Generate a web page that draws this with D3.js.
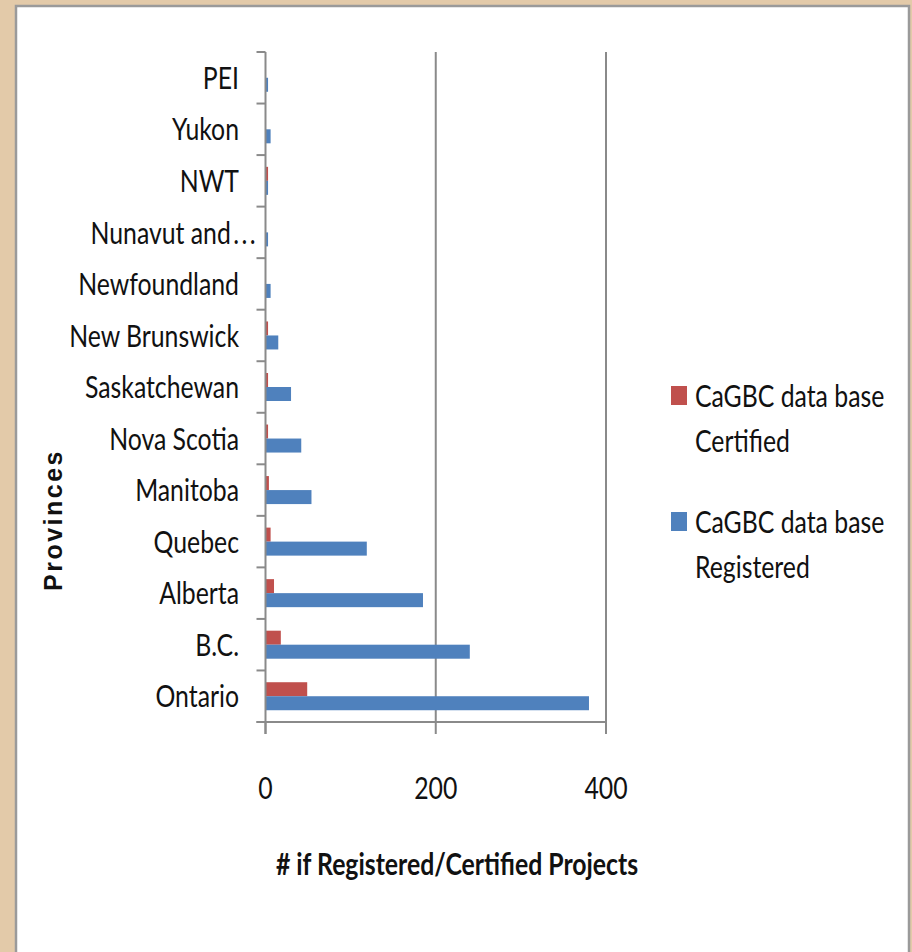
<!DOCTYPE html>
<html>
<head>
<meta charset="utf-8">
<script src="https://cdn.jsdelivr.net/npm/d3@7"></script>
<style>
  html, body { margin: 0; padding: 0; background: #e3caa9; }
  svg { display: block; }
  .lbl { font-family: Lato, "Open Sans", sans-serif; font-size: 31px; fill: #111; }
  .ttl { font-family: Lato, "Open Sans", sans-serif; font-size: 31px; font-weight: bold; fill: #111; }
  .ytl { font-family: "Liberation Sans", Arial, sans-serif; font-size: 25px; font-weight: bold; fill: #111; letter-spacing: 2.5px; }
</style>
</head>
<body>
<svg width="912" height="952"></svg>
<script>
(function () {
  'use strict';

  // provinces, top to bottom as drawn
  var provinces = ['PEI', 'Yukon', 'NWT', 'Nunavut and...', 'Newfoundland', 'New Brunswick',
    'Saskatchewan', 'Nova Scotia', 'Manitoba', 'Quebec', 'Alberta', 'B.C.', 'Ontario'];
  var certified = [0, 0, 3, 0, 0, 3, 3, 3, 4, 6, 10, 18, 49];
  var registered = [3, 6, 3, 3, 6, 15, 30, 42, 54, 119, 185, 240, 380];
  var xTicks = [0, 200, 400];
  var seriesNames = ['certified', 'registered'];
  var legendLines = [['CaGBC data  base', 'Certified'], ['CaGBC data  base', 'Registered']];
  var colors = { certified: '#c0504d', registered: '#4f81bd' };

  // the original text is a tall, narrow face - squeeze it sideways
  var SQ = 0.8;

  var svg = d3.select('svg');

  // white panel with gray frame
  svg.append('rect')
    .attr('x', 16).attr('y', 6)
    .attr('width', 893).attr('height', 960)
    .attr('fill', '#ffffff')
    .attr('stroke', '#9a9a9a')
    .attr('stroke-width', 2.5);

  var left = 265.5, right = 606, top = 52, bottom = 722;

  var x = d3.scaleLinear().domain([0, 400]).range([left, right]);
  var y = d3.scaleBand().domain(provinces).range([top, bottom]);
  var ySub = d3.scaleBand().domain(seriesNames).range([0, y.bandwidth()]).paddingOuter(0.84);

  var g = svg.append('g');

  // vertical gridlines
  g.selectAll('line.grid')
    .data(xTicks.filter(function (d) { return d > 0; }))
    .join('line')
    .attr('class', 'grid')
    .attr('x1', function (d) { return x(d); })
    .attr('x2', function (d) { return x(d); })
    .attr('y1', top).attr('y2', bottom)
    .attr('stroke', '#8a8a8a').attr('stroke-width', 2);

  // bars
  var rows = provinces.map(function (p, i) {
    return { name: p, certified: certified[i], registered: registered[i] };
  });

  var grp = g.selectAll('g.row')
    .data(rows)
    .join('g')
    .attr('class', 'row')
    .attr('transform', function (d) { return 'translate(0,' + y(d.name) + ')'; });

  grp.selectAll('rect')
    .data(function (d) { return seriesNames.map(function (k) { return { key: k, value: d[k] }; }); })
    .join('rect')
    .attr('x', x(0))
    .attr('y', function (d) { return ySub(d.key); })
    .attr('width', function (d) { return x(d.value) - x(0); })
    .attr('height', ySub.bandwidth())
    .attr('fill', function (d) { return colors[d.key]; });

  // y axis line + ticks at category boundaries
  g.append('line')
    .attr('x1', left).attr('x2', left)
    .attr('y1', top).attr('y2', bottom + 12)
    .attr('stroke', '#8a8a8a').attr('stroke-width', 2);

  var bounds = provinces.map(function (p) { return y(p); }).concat([bottom]);
  g.selectAll('line.ytick')
    .data(bounds)
    .join('line')
    .attr('class', 'ytick')
    .attr('x1', left - 9).attr('x2', left)
    .attr('y1', function (d) { return d; })
    .attr('y2', function (d) { return d; })
    .attr('stroke', '#8a8a8a').attr('stroke-width', 2);

  // x axis line + ticks
  g.append('line')
    .attr('x1', left - 9).attr('x2', right)
    .attr('y1', bottom).attr('y2', bottom)
    .attr('stroke', '#8a8a8a').attr('stroke-width', 2);

  g.selectAll('line.xtick')
    .data(xTicks)
    .join('line')
    .attr('class', 'xtick')
    .attr('x1', function (d) { return x(d); })
    .attr('x2', function (d) { return x(d); })
    .attr('y1', bottom).attr('y2', bottom + 12)
    .attr('stroke', '#8a8a8a').attr('stroke-width', 2);

  g.selectAll('text.xlab')
    .data(xTicks)
    .join('text')
    .attr('class', 'lbl xlab')
    .attr('transform', function (d) { return 'translate(' + x(d) + ',799) scale(' + SQ + ',1)'; })
    .attr('text-anchor', 'middle')
    .text(function (d) { return d; });

  // category labels (a truncated one hangs its dots past the others, like Excel does)
  var ylab = g.selectAll('text.ylab')
    .data(provinces)
    .join('text')
    .attr('class', 'lbl ylab')
    .attr('transform', function (d) {
      var ax = /\.\.\.$/.test(d) ? 258 : 239;
      return 'translate(' + ax + ',' + (y(d) + y.bandwidth() / 2) + ') scale(' + SQ + ',1)';
    })
    .attr('dy', '0.36em')
    .attr('text-anchor', 'end');

  ylab.each(function (d) {
    var t = d3.select(this);
    if (/\.\.\.$/.test(d)) {
      t.append('tspan').text(d.slice(0, -3));
      t.append('tspan').attr('dx', 3).style('letter-spacing', '3px').text('...');
    } else {
      t.text(d);
    }
  });

  // axis titles
  svg.append('text')
    .attr('class', 'ttl')
    .attr('transform', 'translate(457,875) scale(' + SQ + ',1)')
    .attr('text-anchor', 'middle')
    .text('# if Registered/Certified Projects');

  svg.append('text')
    .attr('class', 'ytl')
    .attr('transform', 'translate(62,520) rotate(-90)')
    .attr('text-anchor', 'middle')
    .text('Provinces');

  // legend
  var leg = svg.selectAll('g.leg')
    .data(seriesNames)
    .join('g')
    .attr('class', 'leg')
    .attr('transform', function (d, i) { return 'translate(671,' + (386 + i * 126) + ')'; });

  leg.append('rect')
    .attr('width', 16).attr('height', 19)
    .attr('fill', function (d) { return colors[d]; });

  leg.selectAll('text')
    .data(function (d, i) { return legendLines[i]; })
    .join('text')
    .attr('class', 'lbl')
    .attr('transform', function (d, i) { return 'translate(24,' + (21 + i * 45) + ') scale(' + SQ + ',1)'; })
    .text(function (d) { return d; });
})();
</script>
</body>
</html>
